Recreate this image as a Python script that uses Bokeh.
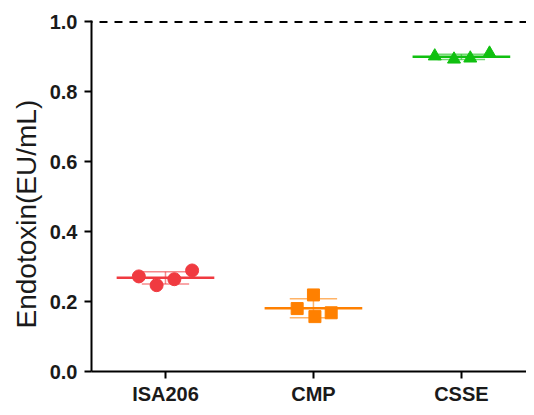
import numpy as np
from bokeh.plotting import figure
from bokeh.models import Range1d, FixedTicker, Span, Title
from bokeh.embed import file_html
from bokeh.resources import INLINE

categories = ["ISA206", "CMP", "CSSE"]
isa_vals = [0.272, 0.247, 0.264, 0.289]
cmp_vals = [0.180, 0.219, 0.157, 0.168]
csse_vals = [0.902, 0.893, 0.896, 0.910]
jitter = [[-0.18, -0.06, 0.06, 0.18], [-0.11, 0.0, 0.01, 0.12], [-0.18, -0.05, 0.06, 0.19]]
y_ticks = [0.0, 0.2, 0.4, 0.6, 0.8, 1.0]
reference_level = 1.0
y_title = "Endotoxin(EU/mL)"

colors = ["#f03a40", "#ff8000", "#10c010"]
markers = ["circle", "square", "triangle"]
series = [isa_vals, cmp_vals, csse_vals]

p = figure(width=526, height=407, output_backend="svg", toolbar_location=None,
           x_range=Range1d(-0.5, 2.44), y_range=Range1d(0, 1.004),
           min_border_left=91, min_border_right=0, min_border_top=20, min_border_bottom=33)
p.outline_line_color = None
p.xgrid.visible = False
p.ygrid.visible = False
p.background_fill_color = "white"

for i, (vals, c, m, jit) in enumerate(zip(series, colors, markers, jitter)):
    mean = float(np.mean(vals))
    sd = float(np.std(vals, ddof=1))
    p.segment(x0=[i], y0=[mean - sd], x1=[i], y1=[mean + sd], line_color=c, line_width=1.5, line_alpha=0.6)
    p.segment(x0=[i - 0.16, i - 0.16], y0=[mean - sd, mean + sd], x1=[i + 0.16, i + 0.16],
              y1=[mean - sd, mean + sd], line_color=c, line_width=1.5, line_alpha=0.6)
    p.segment(x0=[i - 0.33], y0=[mean], x1=[i + 0.33], y1=[mean], line_color=c, line_width=2.5)
    xs = [i + j for j in jit]
    p.scatter(x=xs, y=vals, marker=m, size=13 if m != "square" else 12, fill_color=c, line_color=c)

p.add_layout(Span(location=reference_level, dimension="width", line_color="black",
                  line_width=2, line_dash="8 7", line_dash_offset=-8))

p.xaxis.ticker = FixedTicker(ticks=[0, 1, 2])
p.xaxis.major_label_overrides = {0: categories[0], 1: categories[1], 2: categories[2]}
p.yaxis.ticker = FixedTicker(ticks=y_ticks)
p.yaxis.major_label_overrides = {v: f"{v:.1f}" for v in y_ticks}

for ax in [p.xaxis[0], p.yaxis[0]]:
    ax.axis_line_width = 2
    ax.axis_line_color = "black"
    ax.major_tick_line_width = 2
    ax.major_tick_line_color = "black"
    ax.major_tick_in = 0
    ax.major_tick_out = 7
    ax.minor_tick_line_color = None
    ax.major_label_text_font = "Liberation Sans"
    ax.major_label_text_font_style = "bold"
    ax.major_label_text_font_size = "20px"
    ax.major_label_text_color = "#1a1a1a"

p.xaxis.major_label_standoff = 4
p.yaxis.major_label_standoff = 7

p.add_layout(Title(text=y_title, align="left", offset=43, standoff=10,
                   text_font="Liberation Sans", text_font_size="28px",
                   text_font_style="normal", text_color="#1a1a1a"), "left")

open("out.html", "w").write(file_html(p, INLINE))
